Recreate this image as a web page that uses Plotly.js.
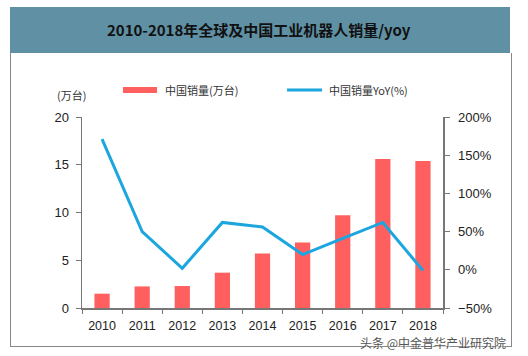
<!DOCTYPE html>
<html><head><meta charset="utf-8">
<script src="https://cdn.plot.ly/plotly-3.0.1.min.js"></script>
<style>
html,body{margin:0;padding:0;background:#fff;}
#wrap{position:relative;width:528px;height:356px;overflow:hidden;}
#band{position:absolute;left:10px;top:7px;width:500px;height:46px;background:#5f90a4;}
#frame{position:absolute;left:10px;top:53px;width:502px;height:294px;border-left:1px solid #888;border-right:1px solid #888;border-bottom:1px solid #888;box-sizing:border-box;}
#chart{position:absolute;left:0;top:0;width:528px;height:356px;}
</style></head>
<body><div id="wrap"><div id="band"></div><div id="frame"></div><div id="chart"></div></div>
<script>
const years = ['2010','2011','2012','2013','2014','2015','2016','2017','2018'];
const salesWan = [1.5, 2.26, 2.3, 3.7, 5.7, 6.85, 9.7, 15.6, 15.4];
const yoyPct = [171, 50, 2, 62, 56, 20, 41, 62, -1];
const barName = '中国销量(万台)';
const lineName = '中国销量YoY(%)';
const titleText = '2010-2018年全球及中国工业机器人销量/yoy';

const barColor = '#ff5f5f', lineColor = '#1ba6df';
const tickFont = {family:'Liberation Sans, Arial, sans-serif', size:13, color:'#222'};
const xTickFont = {family:'Liberation Sans, Arial, sans-serif', size:12.5, color:'#222'};

const traces = [
 {type:'bar', x:years, y:salesWan, name:barName, marker:{color:barColor}, yaxis:'y', showlegend:false},
 {type:'scatter', mode:'lines', x:years, y:yoyPct, name:lineName, line:{color:lineColor,width:3}, yaxis:'y2', showlegend:false}
];

const layout = {
 width:528, height:356,
 margin:{l:82, r:85, t:117, b:48},
 paper_bgcolor:'rgba(0,0,0,0)', plot_bgcolor:'rgba(0,0,0,0)',
 bargap:0.62,
 title:{text:'<b>'+titleText+'</b>', x:0.49, xanchor:'center', y:0.915, yanchor:'middle', yref:'container',
        font:{family:'Noto Sans CJK SC, sans-serif', size:15, color:'#111'}},
 xaxis:{type:'category', showline:true, linecolor:'#777', linewidth:1.5, ticks:'outside', ticklen:4, tickcolor:'#777',
        tickson:'boundaries', tickfont:xTickFont, showgrid:false, zeroline:false, ticklabelstandoff:5},
 yaxis:{range:[0,20], dtick:5, showline:true, linecolor:'#777', linewidth:1.5, ticks:'outside', ticklen:5, tickcolor:'#777',
        tickfont:tickFont, showgrid:false, zeroline:false, ticklabelstandoff:4},
 yaxis2:{range:[-50,200], dtick:50, overlaying:'y', side:'right', showline:true, linecolor:'#777', linewidth:1.5,
        ticks:'outside', ticklen:5, tickcolor:'#777', ticksuffix:'%', tickfont:tickFont, showgrid:false, zeroline:false, ticklabelstandoff:6},
 shapes:[
  {type:'rect', xref:'paper', yref:'paper', x0:0.1136, x1:0.2078, y0:1.126, y1:1.157, fillcolor:barColor, line:{width:0}},
  {type:'line', xref:'paper', yref:'paper', x0:0.568, x1:0.665, y0:1.141, y1:1.141, line:{color:lineColor, width:3}}
 ],
 annotations:[
  {xref:'paper', yref:'paper', x:0.224, y:1.141, xanchor:'left', yanchor:'middle', showarrow:false, text:barName,
   font:{family:'Noto Sans CJK SC, sans-serif', size:11, color:'#333'}},
  {xref:'paper', yref:'paper', x:0.679, y:1.141, xanchor:'left', yanchor:'middle', showarrow:false, text:lineName,
   font:{family:'Noto Sans CJK SC, sans-serif', size:11, color:'#333'}},
  {xref:'paper', yref:'paper', x:-0.03, y:1.115, xanchor:'center', yanchor:'middle', showarrow:false, text:'(万台)',
   font:{family:'Noto Sans CJK SC, sans-serif', size:11, color:'#333'}},
  {xref:'paper', yref:'paper', x:0.768, y:-0.183, xanchor:'left', yanchor:'middle', showarrow:false, text:'头条 @中金普华产业研究院',
   font:{family:'Noto Sans CJK SC, sans-serif', size:12, color:'#555', shadow:'1px 1px 1px #fff'}, borderpad:0}
 ]
};
Plotly.newPlot('chart', traces, layout, {displayModeBar:false, staticPlot:true});
</script></body></html>
